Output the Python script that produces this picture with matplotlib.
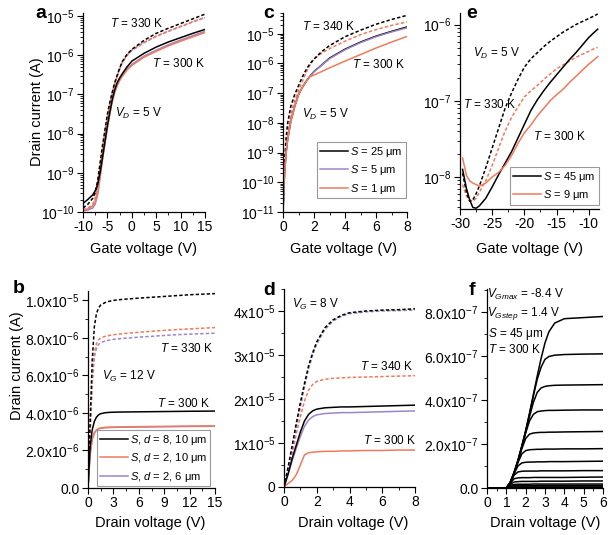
import numpy as np
import matplotlib
matplotlib.use("Agg")
import matplotlib.pyplot as plt
from matplotlib.ticker import MultipleLocator, LogLocator, FuncFormatter, NullFormatter

plt.rcParams['font.family'] = ['Liberation Sans', 'DejaVu Sans']
plt.rcParams['mathtext.fontset'] = 'custom'
plt.rcParams['mathtext.rm'] = 'Liberation Sans'
plt.rcParams['mathtext.it'] = 'Liberation Sans:italic'
plt.rcParams['axes.unicode_minus'] = False

ORANGE = '#F2795B'
PURPLE = '#9D86C6'

# ---- panel a: transfer curves, log10(I) vs VG, VD = 5 V
a_vg = [-10, -9, -8, -7.5, -7, -6.5, -6, -5.5, -5, -4.5, -4, -3.5, -3, -2.5, -2, -1, 0, 2.5, 5, 7.5, 10, 12.5, 15]
a_black_300 = [-9.78, -9.68, -9.56, -9.46, -9.3, -9.0, -8.6, -8.2, -7.8, -7.45, -7.13, -6.88, -6.7, -6.58, -6.48, -6.3, -6.15, -5.95, -5.79, -5.66, -5.55, -5.44, -5.34]
a_orange_300 = [-9.95, -9.92, -9.85, -9.75, -9.55, -9.1, -8.65, -8.25, -7.85, -7.5, -7.18, -6.95, -6.78, -6.65, -6.55, -6.38, -6.26, -6.05, -5.9, -5.76, -5.64, -5.53, -5.42]
a_purple_300 = [-9.97, -9.95, -9.9, -9.8, -9.55, -9.1, -8.65, -8.24, -7.84, -7.48, -7.16, -6.92, -6.75, -6.62, -6.52, -6.35, -6.23, -6.02, -5.87, -5.73, -5.61, -5.5, -5.39]
a_black_330 = [-9.9, -9.8, -9.65, -9.5, -9.2, -8.75, -8.3, -7.9, -7.5, -7.2, -6.94, -6.7, -6.51, -6.33, -6.17, -5.98, -5.85, -5.62, -5.44, -5.31, -5.19, -5.07, -4.95]
a_orange_330 = [-9.95, -9.9, -9.8, -9.65, -9.3, -8.85, -8.4, -7.98, -7.58, -7.25, -6.98, -6.73, -6.53, -6.35, -6.19, -6.0, -5.87, -5.67, -5.51, -5.38, -5.26, -5.14, -5.03]
a_purple_330 = [-9.97, -9.93, -9.85, -9.7, -9.35, -8.9, -8.42, -8.0, -7.6, -7.27, -6.99, -6.74, -6.54, -6.36, -6.2, -6.01, -5.88, -5.68, -5.52, -5.39, -5.27, -5.15, -5.04]

# ---- panel c: transfer curves, log10(I) vs VG
c_vg = [0, 0.05, 0.1, 0.2, 0.3, 0.5, 0.75, 1.0, 1.25, 1.5, 1.75, 2.0, 2.5, 3, 4, 5, 6, 7, 8]
c_black_300 = [-11, -10.3, -9.7, -9.0, -8.55, -7.95, -7.45, -7.05, -6.8, -6.6, -6.42, -6.27, -6.05, -5.82, -5.52, -5.28, -5.08, -4.92, -4.77]
c_purple_300 = [-11, -10.3, -9.7, -9.0, -8.55, -7.95, -7.45, -7.05, -6.8, -6.6, -6.42, -6.28, -6.06, -5.84, -5.54, -5.3, -5.1, -4.94, -4.8]
c_orange_300 = [-11, -10.3, -9.7, -9.0, -8.55, -7.95, -7.45, -7.05, -6.8, -6.6, -6.44, -6.39, -6.27, -6.15, -5.92, -5.7, -5.48, -5.28, -5.09]
c_black_340 = [-11, -10.0, -9.3, -8.5, -8.0, -7.45, -7.05, -6.75, -6.45, -6.2, -6.0, -5.85, -5.6, -5.4, -5.1, -4.88, -4.68, -4.52, -4.38]
c_orange_340 = [-11, -10.3, -9.6, -8.8, -8.3, -7.7, -7.25, -6.9, -6.6, -6.3, -6.05, -5.85, -5.65, -5.5, -5.25, -5.03, -4.86, -4.72, -4.6]

# ---- panel e: transfer curves, log10(I) vs VG
e_vg = [-29.6, -29, -28.5, -28, -27.5, -27, -26, -25, -24, -23, -22, -21, -20, -19, -18, -17, -16, -15, -14, -13, -12, -11, -10, -9, -8.6]
e_black_300 = [-7.9, -8.15, -8.3, -8.4, -8.41, -8.38, -8.28, -8.13, -7.97, -7.82, -7.67, -7.49, -7.31, -7.13, -6.99, -6.87, -6.76, -6.66, -6.56, -6.46, -6.37, -6.27, -6.17, -6.09, -6.06]
e_black_330 = [-7.95, -8.2, -8.32, -8.3, -8.22, -8.12, -7.88, -7.62, -7.36, -7.1, -6.9, -6.72, -6.56, -6.45, -6.37, -6.29, -6.22, -6.16, -6.1, -6.05, -6.0, -5.96, -5.92, -5.88, -5.86]
e_orange_300 = [-7.75, -7.98, -8.05, -8.08, -8.1, -8.12, -8.08, -8.0, -7.94, -7.85, -7.72, -7.56, -7.42, -7.32, -7.2, -7.1, -7.0, -6.92, -6.85, -6.76, -6.68, -6.6, -6.52, -6.45, -6.42]
e_orange_330 = [-8.1, -8.25, -8.3, -8.32, -8.28, -8.2, -8.05, -7.85, -7.62, -7.4, -7.22, -7.08, -6.95, -6.87, -6.8, -6.72, -6.65, -6.58, -6.53, -6.48, -6.43, -6.39, -6.35, -6.31, -6.3]

# ---- panel b: output curves, I (1e-6 A) vs VD, VG = 12 V
b_vd = [0, 0.25, 0.5, 0.75, 1.0, 1.25, 1.5, 2, 2.5, 3, 4, 6, 8, 10, 12, 15]
b_black_330 = [0, 3.5, 6.8, 8.6, 9.3, 9.6, 9.75, 9.88, 9.95, 10.0, 10.05, 10.12, 10.18, 10.24, 10.3, 10.36]
b_orange_330 = [0, 3.0, 5.8, 7.2, 7.7, 7.9, 8.0, 8.08, 8.13, 8.17, 8.22, 8.3, 8.37, 8.43, 8.48, 8.55]
b_purple_330 = [0, 2.9, 5.6, 7.0, 7.45, 7.65, 7.75, 7.83, 7.88, 7.92, 7.97, 8.04, 8.1, 8.16, 8.2, 8.25]
b_black_300 = [0, 2.2, 3.1, 3.55, 3.78, 3.9, 3.96, 4.01, 4.03, 4.04, 4.05, 4.06, 4.07, 4.08, 4.09, 4.1]
b_orange_300 = [0, 1.8, 2.6, 2.95, 3.1, 3.17, 3.2, 3.23, 3.24, 3.25, 3.26, 3.27, 3.28, 3.29, 3.3, 3.31]
b_purple_300 = [0, 1.8, 2.6, 2.93, 3.08, 3.15, 3.18, 3.21, 3.22, 3.23, 3.24, 3.25, 3.26, 3.27, 3.28, 3.29]

# ---- panel d: output curves, I (1e-5 A) vs VD, VG = 8 V
d_vd = [0, 0.25, 0.5, 0.75, 1, 1.25, 1.5, 1.75, 2, 2.5, 3, 3.5, 4, 5, 6, 7, 8]
d_black_340 = [0, 0.45, 0.95, 1.45, 1.92, 2.35, 2.75, 3.05, 3.3, 3.62, 3.8, 3.9, 3.96, 4.0, 4.02, 4.03, 4.05]
d_purple_340 = [0, 0.4, 0.85, 1.35, 1.82, 2.27, 2.68, 3.0, 3.25, 3.58, 3.77, 3.88, 3.94, 3.98, 4.0, 4.01, 4.02]
d_orange_340 = [0, 0.35, 0.75, 1.2, 1.6, 1.95, 2.2, 2.33, 2.4, 2.45, 2.47, 2.48, 2.49, 2.5, 2.51, 2.52, 2.53]
d_black_300 = [0, 0.3, 0.65, 0.95, 1.25, 1.5, 1.65, 1.73, 1.77, 1.8, 1.81, 1.82, 1.82, 1.83, 1.84, 1.85, 1.86]
d_purple_300 = [0, 0.28, 0.6, 0.88, 1.15, 1.38, 1.52, 1.6, 1.64, 1.67, 1.68, 1.69, 1.69, 1.7, 1.71, 1.72, 1.73]
d_orange_300 = [0, 0.08, 0.15, 0.28, 0.5, 0.73, 0.78, 0.79, 0.8, 0.81, 0.81, 0.82, 0.82, 0.83, 0.83, 0.84, 0.84]

# ---- panel f: output family, I (1e-7 A) vs VD, one row per VG step
f_vd = [0, 1.0, 1.2, 1.4, 1.6, 1.8, 2.0, 2.2, 2.4, 2.6, 2.8, 3.0, 3.2, 3.5, 4.0, 5.0, 6.0]
f_id = [
    [0, 0, 0.25, 0.7, 1.25, 1.9, 2.6, 3.4, 4.25, 5.1, 5.9, 6.6, 7.1, 7.5, 7.7, 7.75, 7.8],
    [0, 0, 0.25, 0.7, 1.25, 1.9, 2.6, 3.38, 4.2, 4.95, 5.5, 5.85, 5.98, 6.04, 6.07, 6.09, 6.1],
    [0, 0, 0.25, 0.7, 1.24, 1.88, 2.55, 3.25, 3.9, 4.35, 4.55, 4.62, 4.65, 4.67, 4.68, 4.69, 4.7],
    [0, 0, 0.25, 0.69, 1.22, 1.85, 2.5, 3.05, 3.35, 3.47, 3.5, 3.52, 3.53, 3.53, 3.54, 3.55, 3.55],
    [0, 0, 0.24, 0.68, 1.2, 1.78, 2.25, 2.45, 2.5, 2.52, 2.53, 2.53, 2.54, 2.54, 2.55, 2.56, 2.57],
    [0, 0, 0.24, 0.67, 1.15, 1.55, 1.7, 1.74, 1.75, 1.76, 1.76, 1.77, 1.77, 1.77, 1.78, 1.78, 1.79],
    [0, 0, 0.23, 0.64, 1.0, 1.14, 1.17, 1.18, 1.18, 1.19, 1.19, 1.19, 1.2, 1.2, 1.2, 1.21, 1.22],
    [0, 0, 0.22, 0.58, 0.73, 0.76, 0.77, 0.77, 0.77, 0.77, 0.78, 0.78, 0.78, 0.78, 0.78, 0.79, 0.79],
    [0, 0, 0.2, 0.42, 0.46, 0.47, 0.47, 0.47, 0.48, 0.48, 0.48, 0.48, 0.48, 0.48, 0.48, 0.49, 0.5],
    [0, 0, 0.17, 0.27, 0.29, 0.3, 0.3, 0.3, 0.3, 0.3, 0.31, 0.31, 0.31, 0.31, 0.31, 0.32, 0.32],
    [0, 0, 0.12, 0.16, 0.17, 0.17, 0.17, 0.17, 0.18, 0.18, 0.18, 0.18, 0.18, 0.18, 0.18, 0.18, 0.18],
    [0, 0, 0.08, 0.1, 0.1, 0.1, 0.1, 0.1, 0.1, 0.11, 0.11, 0.11, 0.11, 0.11, 0.11, 0.11, 0.11],
    [0, 0, 0.04, 0.05, 0.05, 0.05, 0.05, 0.05, 0.05, 0.05, 0.05, 0.05, 0.05, 0.05, 0.05, 0.05, 0.05],
    [0, 0, 0.01, 0.02, 0.02, 0.02, 0.02, 0.02, 0.02, 0.02, 0.02, 0.02, 0.02, 0.02, 0.02, 0.02, 0.02],
]

W, H = 613, 535
fig = plt.figure(figsize=(W / 100, H / 100), dpi=100)


def add_ax(l, t, r, b):
    return fig.add_axes([l / W, 1 - b / H, (r - l) / W, (b - t) / H])


def note(x, y, s, size=8.5, **kw):
    fig.text(x / W, 1 - y / H, s, ha='left', va='baseline', fontsize=size, **kw)


def sci(digits, zero):
    def f(v, pos):
        if abs(v) < 1e-20:
            return zero
        e = int(np.floor(np.log10(abs(v)) + 1e-9))
        m = v / 10.0 ** e
        return f'{m:.{digits}f}x$\\mathdefault{{10^{{{e}}}}}$'
    return FuncFormatter(f)


def style(ax, xmaj, xmin, logy=False, ymaj=None, ymin=None):
    for s in ('top', 'right'):
        ax.spines[s].set_visible(False)
    for s in ('left', 'bottom'):
        ax.spines[s].set_linewidth(0.9)
    ax.xaxis.set_major_locator(MultipleLocator(xmaj))
    ax.xaxis.set_minor_locator(MultipleLocator(xmin))
    if logy:
        ax.set_yscale('log')
        ax.yaxis.set_major_locator(LogLocator(base=10, numticks=20))
        ax.yaxis.set_minor_locator(LogLocator(base=10, subs=np.arange(2, 10), numticks=20))
        ax.yaxis.set_minor_formatter(NullFormatter())
    else:
        ax.yaxis.set_major_locator(MultipleLocator(ymaj))
        ax.yaxis.set_minor_locator(MultipleLocator(ymin))
    ax.tick_params(which='major', length=4, width=0.8, direction='out', labelsize=10, pad=2)
    ax.tick_params(which='minor', length=2, width=0.6, direction='out')


def lg(ax, lines, labels, l, t):
    leg = ax.legend(lines, labels, loc='upper left', bbox_to_anchor=(l / W, 1 - t / H),
                    bbox_transform=fig.transFigure, borderaxespad=0, fontsize=8,
                    frameon=True, fancybox=False, framealpha=1, edgecolor='#9a9a9a',
                    handlelength=2.5, handletextpad=0.25, labelspacing=0.4, borderpad=0.25)
    leg.get_frame().set_linewidth(0.8)


LW = 1.1
DASH = (0, (2.2, 1.4))
exp10 = lambda v: np.power(10.0, np.array(v))

# panel a
ax = add_ax(83, 13, 205, 212)
ax.plot(a_vg, exp10(a_purple_330), color=PURPLE, lw=LW, ls=DASH)
ax.plot(a_vg, exp10(a_orange_330), color=ORANGE, lw=LW, ls=DASH)
ax.plot(a_vg, exp10(a_black_330), color='black', lw=LW, ls=DASH)
ax.plot(a_vg, exp10(a_purple_300), color=PURPLE, lw=LW)
ax.plot(a_vg, exp10(a_orange_300), color=ORANGE, lw=LW)
ax.plot(a_vg, exp10(a_black_300), color='black', lw=LW)
style(ax, 5, 2.5, logy=True)
ax.set_xlim(-10, 15)
ax.set_ylim(1e-10, 1.2e-5)

# panel c
ax = add_ax(283, 13, 407, 212)
ax.plot(c_vg, exp10(c_orange_340), color=ORANGE, lw=LW, ls=DASH)
ax.plot(c_vg, exp10(c_black_340), color='black', lw=LW, ls=DASH)
l1, = ax.plot(c_vg, exp10(c_black_300), color='black', lw=LW)
l2, = ax.plot(c_vg, exp10(c_purple_300), color=PURPLE, lw=LW)
l3, = ax.plot(c_vg, exp10(c_orange_300), color=ORANGE, lw=LW)
style(ax, 2, 1, logy=True)
ax.set_xlim(0, 8)
ax.set_ylim(1e-11, 5e-5)
lg(ax, [l1, l2, l3], ['$S$ = 25 μm', '$S$ = 5 μm', '$S$ = 1 μm'], 317, 142)

# panel e
ax = add_ax(460, 13, 599, 209)
ax.plot(e_vg, exp10(e_orange_330), color=ORANGE, lw=LW, ls=DASH)
ax.plot(e_vg, exp10(e_black_330), color='black', lw=LW, ls=DASH)
l1, = ax.plot(e_vg, exp10(e_black_300), color='black', lw=LW)
l2, = ax.plot(e_vg, exp10(e_orange_300), color=ORANGE, lw=LW)
style(ax, 5, 2.5, logy=True)
ax.set_xlim(-30, -8.4)
ax.set_ylim(3.8e-9, 1.42e-6)
lg(ax, [l1, l2], ['$S$ = 45 μm', '$S$ = 9 μm'], 510, 167)

# panel b
ax = add_ax(88, 291, 215, 488)
u = 1e-6
ax.plot(b_vd, np.array(b_purple_330) * u, color=PURPLE, lw=LW, ls=DASH)
ax.plot(b_vd, np.array(b_orange_330) * u, color=ORANGE, lw=LW, ls=DASH)
ax.plot(b_vd, np.array(b_black_330) * u, color='black', lw=LW, ls=DASH)
l3, = ax.plot(b_vd, np.array(b_purple_300) * u, color=PURPLE, lw=LW)
l2, = ax.plot(b_vd, np.array(b_orange_300) * u, color=ORANGE, lw=LW)
l1, = ax.plot(b_vd, np.array(b_black_300) * u, color='black', lw=LW)
style(ax, 3, 1.5, ymaj=2e-6, ymin=1e-6)
ax.yaxis.set_major_formatter(sci(1, '0.0'))
ax.set_xlim(0, 15)
ax.set_ylim(0, 1.05e-5)
lg(ax, [l1, l2, l3], ['$S$, $d$ = 8, 10 μm', '$S$, $d$ = 2, 10 μm', '$S$, $d$ = 2, 6 μm'], 97, 430)

# panel d
ax = add_ax(284, 289, 415, 487)
u = 1e-5
ax.plot(d_vd, np.array(d_orange_340) * u, color=ORANGE, lw=LW, ls=DASH)
ax.plot(d_vd, np.array(d_purple_340) * u, color=PURPLE, lw=LW, ls=DASH)
ax.plot(d_vd, np.array(d_black_340) * u, color='black', lw=LW, ls=DASH)
ax.plot(d_vd, np.array(d_orange_300) * u, color=ORANGE, lw=LW)
ax.plot(d_vd, np.array(d_purple_300) * u, color=PURPLE, lw=LW)
ax.plot(d_vd, np.array(d_black_300) * u, color='black', lw=LW)
style(ax, 2, 1, ymaj=1e-5, ymin=0.5e-5)
ax.yaxis.set_major_formatter(sci(0, '0'))
ax.set_xlim(0, 8)
ax.set_ylim(0, 4.5e-5)

# panel f
ax = add_ax(487, 289, 603, 488)
for row in f_id:
    ax.plot(f_vd, np.array(row) * 1e-7, color='black', lw=LW)
style(ax, 1, 0.5, ymaj=2e-7, ymin=1e-7)
ax.yaxis.set_major_formatter(sci(1, '0.0'))
ax.set_xlim(0, 6)
ax.set_ylim(0, 9.05e-7)

# axis labels
lab = dict(fontsize=10.5, ha='center', va='center')
fig.text(37 / W, 1 - 112 / H, 'Drain current (A)', rotation=90, **lab)
fig.text(17 / W, 1 - 366 / H, 'Drain current (A)', rotation=90, **lab)
for x in (144, 343, 530):
    fig.text(x / W, 1 - 249 / H, 'Gate voltage (V)', **lab)
for x in (150, 353, 545):
    fig.text(x / W, 1 - 523 / H, 'Drain voltage (V)', **lab)

# panel letters
for x, y, s in [(35, 18, 'a'), (263, 18, 'c'), (466, 18, 'e'),
                (13, 293, 'b'), (263, 295, 'd'), (469, 295, 'f')]:
    note(x, y, s, size=14, fontweight='bold')

# annotations
note(110, 27, '$T$ = 330 K')
note(152, 67, '$T$ = 300 K')
note(115, 117, '$V_D$ = 5 V')
note(302, 30, '$T$ = 340 K')
note(352, 68, '$T$ = 300 K')
note(302, 118, '$V_D$ = 5 V')
note(473, 57, '$V_D$ = 5 V')
note(463, 108, '$T$ = 330 K')
note(533, 140, '$T$ = 300 K')
note(160, 352, '$T$ = 330 K')
note(102, 380, '$V_G$ = 12 V')
note(157, 407, '$T$ = 300 K')
note(292, 308, '$V_G$ = 8 V')
note(360, 370, '$T$ = 340 K')
note(363, 444, '$T$ = 300 K')
note(487, 298, '$V_{Gmax}$ = -8.4 V')
note(487, 316, '$V_{Gstep}$ = 1.4 V')
note(488, 337, '$S$ = 45 μm')
note(488, 353, '$T$ = 300 K')

fig.savefig('out.png', dpi=100)
